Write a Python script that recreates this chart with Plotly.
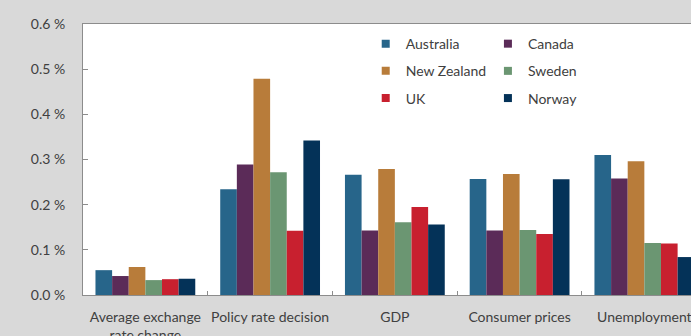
import plotly.graph_objects as go

categories = ["Average exchange<br>rate change", "Policy rate decision", "GDP",
              "Consumer prices", "Unemployment"]

countries = ["Australia", "Canada", "New Zealand", "Sweden", "UK", "Norway"]
colors = ["#27658a", "#5b2b58", "#b87c3a", "#6b9672", "#c8202f", "#043258"]

# Effect sizes in percent, one list per country (same order as categories)
australia = [0.055, 0.234, 0.266, 0.257, 0.310]
canada = [0.042, 0.289, 0.143, 0.143, 0.258]
new_zealand = [0.062, 0.479, 0.279, 0.268, 0.296]
sweden = [0.033, 0.272, 0.161, 0.144, 0.115]
uk = [0.035, 0.142, 0.195, 0.135, 0.114]
norway = [0.036, 0.342, 0.156, 0.256, 0.084]

series = [australia, canada, new_zealand, sweden, uk, norway]

y_ticks = [0.0, 0.1, 0.2, 0.3, 0.4, 0.5, 0.6]
y_tick_labels = ["0.0 %", "0.1 %", "0.2 %", "0.3 %", "0.4 %", "0.5 %", "0.6 %"]

font_family = "Lato, 'Open Sans', sans-serif"
text_color = "#404040"
axis_color = "#8c8c8c"

fig = go.Figure()

for name, vals, col in zip(countries, series, colors):
    fig.add_trace(go.Bar(
        x=categories, y=vals, name=name, marker_color=col,
        marker_line_width=0, showlegend=False,
    ))

# Legend entries: two columns of three, small square swatches
left_col = ["Australia", "New Zealand", "UK"]
for name, col in zip(countries, colors):
    fig.add_trace(go.Scatter(
        x=[None], y=[None], mode="markers", name=name,
        marker=dict(symbol="square", size=8, color=col),
        legend="legend" if name in left_col else "legend2",
        legendgroup=name,
    ))

legend_style = dict(
    orientation="v", bgcolor="rgba(0,0,0,0)", borderwidth=0,
    font=dict(family=font_family, size=14, color=text_color),
    tracegroupgap=6, itemwidth=30, xanchor="left", yanchor="top",
)

fig.update_layout(
    width=691, height=336,
    margin=dict(l=83, r=0, t=24, b=41),
    paper_bgcolor="#d9d9d9", plot_bgcolor="#ffffff",
    barmode="group", bargap=0.2, bargroupgap=0,
    font=dict(family=font_family, size=14, color=text_color),
    legend=dict(x=0.465, y=0.985, **legend_style),
    legend2=dict(x=0.666, y=0.985, **legend_style),
    xaxis=dict(
        range=[-0.5, 4.374], showline=True, linecolor=axis_color, linewidth=1,
        mirror=True, ticks="inside", ticklen=4, tickcolor=axis_color,
        tickson="boundaries", showgrid=False, ticklabelstandoff=9,
        tickangle=0, automargin=False,
        tickfont=dict(family=font_family, size=14, color=text_color),
    ),
    yaxis=dict(
        range=[0, 0.6], tickvals=y_ticks, ticktext=y_tick_labels,
        showline=True, linecolor=axis_color, linewidth=1,
        ticks="inside", ticklen=5, tickcolor=axis_color,
        showgrid=False, zeroline=False, ticklabelstandoff=14,
        automargin=False,
        tickfont=dict(family=font_family, size=14, color=text_color),
    ),
)

fig.write_html("out.html")
